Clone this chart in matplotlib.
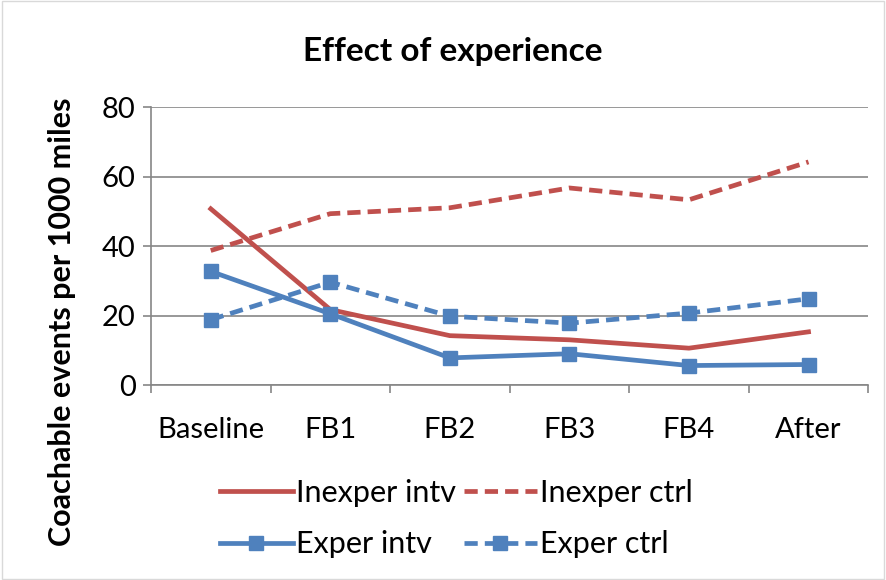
import matplotlib.pyplot as plt
import numpy as np

plt.rcParams['font.family'] = ['Lato', 'DejaVu Sans']

categories = ["Baseline", "FB1", "FB2", "FB3", "FB4", "After"]
inexper_intv = [50.7, 21.7, 14.2, 13.0, 10.6, 15.3]
inexper_ctrl = [38.7, 49.3, 51.0, 56.7, 53.3, 64.2]
exper_intv = [32.7, 20.5, 7.8, 9.0, 5.6, 5.9]
exper_ctrl = [18.8, 29.6, 19.8, 17.8, 20.7, 24.8]

red = "#c0504d"
blue = "#4f81bd"
grey = "#868686"

fig = plt.figure(figsize=(8.86, 5.8), dpi=100)
ax = fig.add_axes([0.1704, 0.3362, 0.8096, 0.4793])

x = np.arange(len(categories))
lw = 3.4
dash = (0, (2.8, 1.5))
l1, = ax.plot(x, inexper_intv, color=red, lw=lw, label="Inexper intv")
l2, = ax.plot(x, inexper_ctrl, color=red, lw=lw, ls=dash, label="Inexper ctrl")
l3, = ax.plot(x, exper_intv, color=blue, lw=lw, marker='s', ms=10, label="Exper intv")
l4, = ax.plot(x, exper_ctrl, color=blue, lw=lw, ls=dash, marker='s', ms=10, label="Exper ctrl")

ax.set_xlim(-0.5, 5.5)
ax.set_ylim(0, 80)
ax.set_yticks([0, 20, 40, 60, 80])
ax.set_xticks(x)
ax.set_xticklabels(categories)
ax.set_xticks(np.arange(-0.5, 6, 1), minor=True)
ax.tick_params(axis='x', which='major', length=0, pad=23, labelsize=21)
ax.tick_params(axis='x', which='minor', length=6, color=grey, width=1.2)
ax.tick_params(axis='y', length=6, color=grey, width=1.2, labelsize=21, pad=5)
ax.yaxis.grid(True, color=grey, lw=1.2)
ax.set_axisbelow(True)
for s in ['top', 'right']:
    ax.spines[s].set_visible(False)
for s in ['left', 'bottom']:
    ax.spines[s].set_color(grey)
    ax.spines[s].set_linewidth(1.2)

fig.text(0.511, 0.912, "Effect of experience", ha='center', va='center',
         fontsize=24, fontweight='bold')
fig.text(0.07, 0.446, "Coachable events per 1000 miles", rotation=90,
         ha='center', va='center', fontsize=22, fontweight='bold')

fig.legend([l1, l3, l2, l4], ["Inexper intv", "Exper intv", "Inexper ctrl", "Exper ctrl"],
           loc='center', bbox_to_anchor=(0.515, 0.106), ncol=2, frameon=False,
           fontsize=22, handlelength=2.4, handletextpad=0.1, columnspacing=0.25,
           labelspacing=0.78)

border = plt.Rectangle((0.002, 0.002), 0.996, 0.996, transform=fig.transFigure,
                       fill=False, ec="#d9d9d9", lw=1)
fig.patches.append(border)

fig.savefig("out.png", dpi=100)
